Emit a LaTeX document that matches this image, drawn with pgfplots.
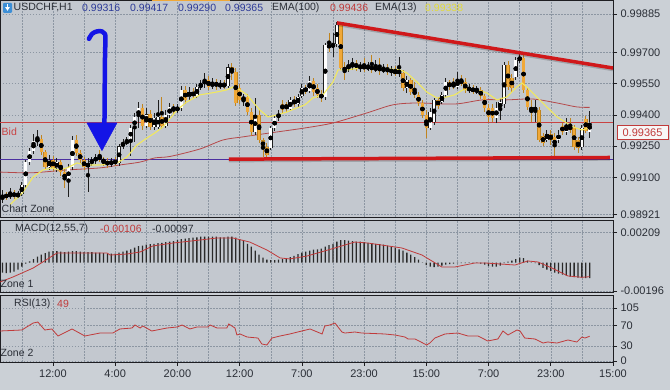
\documentclass[border=0pt]{standalone}
\usepackage{pgfplots}
\pgfplotsset{compat=1.18}
\usepackage{pgfplotstable}
\usepackage{fontspec}
\setmainfont{Liberation Sans}

\definecolor{pagebg}{HTML}{CBD0D6}
\definecolor{panelbg}{HTML}{C3C8CF}
\definecolor{gridc}{HTML}{8C96A2}
\definecolor{axisc}{HTML}{1E1E22}
\definecolor{bullfill}{HTML}{FFFFFF}
\definecolor{bulledge}{HTML}{1E1E1E}
\definecolor{bearfill}{HTML}{F0A838}
\definecolor{bearedge}{HTML}{C0841F}
\definecolor{emay}{HTML}{F2E95E}
\definecolor{emar}{HTML}{B5494A}
\definecolor{bidred}{HTML}{C94343}
\definecolor{purp}{HTML}{4B2FA0}
\definecolor{trendred}{HTML}{D0181A}
\definecolor{arrowblue}{HTML}{1414E6}
\definecolor{valblue}{HTML}{2C3A98}
\definecolor{txt}{HTML}{2A2E36}
\definecolor{valred}{HTML}{C03A3A}
\definecolor{valyel}{HTML}{E2DA3A}
\definecolor{histc}{HTML}{2A2A2A}
\definecolor{iconblue}{HTML}{3D8FD6}

\pgfplotstableread{
t o h l c
-13 0.98991 0.99039 0.98976 0.99015
-11 0.99005 0.99048 0.98996 0.99024
-9 0.99010 0.99034 0.99000 0.99020
-8 0.99020 0.99077 0.99010 0.99063
-7 0.99063 0.99183 0.99048 0.99173
-6 0.99173 0.99241 0.99159 0.99226
-5 0.99226 0.99308 0.99212 0.99275
-4 0.99275 0.99327 0.99250 0.99284
-1 0.99149 0.99207 0.99135 0.99183
1 0.99145 0.99193 0.99125 0.99173
4 0.99087 0.99164 0.99005 0.99149
5 0.99149 0.99298 0.99135 0.99279
9 0.99149 0.99193 0.99029 0.99169
10 0.99169 0.99197 0.99154 0.99183
11 0.99183 0.99212 0.99164 0.99193
15 0.99164 0.99193 0.99149 0.99178
17 0.99169 0.99260 0.99154 0.99250
18 0.99250 0.99284 0.99236 0.99265
19 0.99265 0.99294 0.99255 0.99279
20 0.99279 0.99351 0.99202 0.99337
21 0.99337 0.99409 0.99270 0.99390
22 0.99390 0.99462 0.99337 0.99433
24 0.99347 0.99433 0.99337 0.99404
26 0.99342 0.99409 0.99327 0.99385
27 0.99342 0.99472 0.99332 0.99390
29 0.99347 0.99423 0.99337 0.99399
30 0.99399 0.99457 0.99385 0.99438
32 0.99423 0.99452 0.99409 0.99433
33 0.99433 0.99539 0.99419 0.99520
35 0.99486 0.99534 0.99467 0.99510
37 0.99491 0.99548 0.99481 0.99534
38 0.99534 0.99568 0.99520 0.99548
39 0.99548 0.99601 0.99529 0.99568
41 0.99534 0.99577 0.99524 0.99558
43 0.99539 0.99568 0.99524 0.99548
45 0.99539 0.99645 0.99529 0.99630
49 0.99472 0.99500 0.99443 0.99486
52 0.99318 0.99481 0.99303 0.99399
56 0.99241 0.99347 0.99231 0.99337
57 0.99337 0.99399 0.99323 0.99385
58 0.99385 0.99423 0.99371 0.99409
61 0.99428 0.99486 0.99419 0.99472
63 0.99452 0.99500 0.99438 0.99486
64 0.99491 0.99548 0.99481 0.99529
66 0.99515 0.99587 0.99505 0.99563
70 0.99486 0.99746 0.99472 0.99736
72 0.99726 0.99794 0.99678 0.99741
73 0.99741 0.99847 0.99726 0.99832
76 0.99616 0.99664 0.99606 0.99645
77 0.99630 0.99673 0.99616 0.99649
79 0.99625 0.99654 0.99606 0.99640
81 0.99621 0.99654 0.99611 0.99635
83 0.99616 0.99664 0.99606 0.99630
85 0.99611 0.99645 0.99601 0.99625
87 0.99606 0.99635 0.99587 0.99616
89 0.99597 0.99678 0.99582 0.99616
91 0.99529 0.99587 0.99505 0.99568
97 0.99337 0.99433 0.99327 0.99414
98 0.99366 0.99481 0.99351 0.99472
100 0.99462 0.99510 0.99452 0.99496
101 0.99496 0.99577 0.99486 0.99558
104 0.99534 0.99606 0.99524 0.99568
107 0.99520 0.99548 0.99505 0.99529
109 0.99510 0.99539 0.99500 0.99524
114 0.99385 0.99462 0.99361 0.99433
115 0.99433 0.99481 0.99375 0.99462
116 0.99452 0.99654 0.99433 0.99640
119 0.99582 0.99678 0.99568 0.99664
120 0.99664 0.99693 0.99649 0.99678
124 0.99419 0.99472 0.99366 0.99438
127 0.99279 0.99327 0.99270 0.99308
130 0.99279 0.99327 0.99265 0.99308
132 0.99318 0.99385 0.99303 0.99351
136 0.99246 0.99351 0.99231 0.99337
138 0.99316 0.99417 0.99290 0.99365
}\bull

\pgfplotstableread{
t o h l c
-12 0.99015 0.99029 0.98991 0.99005
-10 0.99024 0.99039 0.98996 0.99010
-3 0.99284 0.99303 0.99207 0.99222
-2 0.99222 0.99231 0.99135 0.99149
0 0.99183 0.99202 0.99130 0.99145
2 0.99173 0.99183 0.99106 0.99125
3 0.99125 0.99145 0.99048 0.99087
6 0.99279 0.99303 0.99202 0.99217
7 0.99217 0.99231 0.99169 0.99183
8 0.99183 0.99197 0.99135 0.99149
12 0.99202 0.99231 0.99173 0.99188
13 0.99188 0.99197 0.99154 0.99173
14 0.99173 0.99193 0.99145 0.99164
16 0.99178 0.99197 0.99154 0.99169
23 0.99433 0.99452 0.99327 0.99347
25 0.99404 0.99423 0.99327 0.99342
28 0.99390 0.99486 0.99332 0.99347
31 0.99438 0.99452 0.99399 0.99423
34 0.99520 0.99539 0.99452 0.99472
36 0.99510 0.99529 0.99476 0.99491
40 0.99568 0.99587 0.99520 0.99534
42 0.99558 0.99573 0.99520 0.99539
44 0.99548 0.99568 0.99524 0.99539
46 0.99630 0.99649 0.99568 0.99606
47 0.99606 0.99625 0.99443 0.99457
48 0.99529 0.99548 0.99452 0.99472
50 0.99486 0.99500 0.99399 0.99414
51 0.99414 0.99433 0.99298 0.99318
53 0.99399 0.99423 0.99265 0.99279
54 0.99279 0.99289 0.99197 0.99246
55 0.99246 0.99265 0.99193 0.99207
59 0.99452 0.99472 0.99409 0.99423
60 0.99452 0.99462 0.99414 0.99428
62 0.99472 0.99491 0.99438 0.99452
65 0.99529 0.99544 0.99500 0.99515
67 0.99563 0.99577 0.99491 0.99510
68 0.99529 0.99548 0.99481 0.99496
69 0.99496 0.99520 0.99462 0.99486
71 0.99736 0.99794 0.99702 0.99726
74 0.99832 0.99842 0.99616 0.99625
75 0.99625 0.99654 0.99568 0.99616
78 0.99649 0.99664 0.99611 0.99625
80 0.99640 0.99673 0.99606 0.99621
82 0.99635 0.99688 0.99601 0.99616
84 0.99630 0.99673 0.99592 0.99611
86 0.99625 0.99645 0.99592 0.99606
88 0.99616 0.99635 0.99587 0.99597
90 0.99601 0.99616 0.99515 0.99529
92 0.99568 0.99577 0.99496 0.99510
93 0.99520 0.99558 0.99481 0.99496
94 0.99496 0.99510 0.99443 0.99457
95 0.99457 0.99472 0.99385 0.99399
96 0.99399 0.99423 0.99289 0.99337
99 0.99472 0.99486 0.99428 0.99443
102 0.99558 0.99568 0.99520 0.99534
103 0.99548 0.99577 0.99524 0.99539
105 0.99568 0.99592 0.99539 0.99553
106 0.99558 0.99577 0.99505 0.99520
108 0.99529 0.99544 0.99500 0.99510
110 0.99520 0.99534 0.99476 0.99491
111 0.99491 0.99500 0.99414 0.99433
112 0.99433 0.99452 0.99366 0.99390
113 0.99433 0.99452 0.99366 0.99385
117 0.99640 0.99659 0.99520 0.99534
118 0.99577 0.99597 0.99510 0.99529
121 0.99673 0.99688 0.99505 0.99520
122 0.99520 0.99529 0.99423 0.99438
123 0.99438 0.99472 0.99366 0.99419
125 0.99423 0.99438 0.99270 0.99279
126 0.99298 0.99313 0.99250 0.99265
128 0.99308 0.99327 0.99255 0.99279
129 0.99294 0.99313 0.99197 0.99246
131 0.99347 0.99361 0.99303 0.99318
133 0.99351 0.99385 0.99313 0.99327
134 0.99337 0.99351 0.99231 0.99246
135 0.99279 0.99294 0.99217 0.99241
137 0.99380 0.99395 0.99313 0.99323
}\bear

\pgfplotstableread{
t m
-13 -0.00069
-12 -0.00073
-11 -0.00069
-10 -0.00062
-9 -0.00048
-8 -0.00028
-7 -0.00007
-6 0.00010
-5 0.00024
-4 0.00042
-3 0.00055
-2 0.00066
-1 0.00076
0 0.00080
1 0.00080
2 0.00076
3 0.00073
4 0.00076
5 0.00080
6 0.00080
7 0.00076
8 0.00073
9 0.00073
10 0.00073
11 0.00069
12 0.00069
13 0.00066
14 0.00062
15 0.00062
16 0.00062
17 0.00069
18 0.00076
19 0.00083
20 0.00093
21 0.00104
22 0.00114
23 0.00118
24 0.00125
25 0.00128
26 0.00131
27 0.00135
28 0.00138
29 0.00142
30 0.00145
31 0.00149
32 0.00156
33 0.00163
34 0.00166
35 0.00170
36 0.00173
37 0.00176
38 0.00180
39 0.00180
40 0.00180
41 0.00180
42 0.00180
43 0.00176
44 0.00176
45 0.00180
46 0.00180
47 0.00173
48 0.00163
49 0.00149
50 0.00131
51 0.00111
52 0.00083
53 0.00055
54 0.00035
55 0.00021
56 0.00017
57 0.00017
58 0.00021
59 0.00024
60 0.00031
61 0.00038
62 0.00048
63 0.00059
64 0.00069
65 0.00076
66 0.00083
67 0.00090
68 0.00093
69 0.00097
70 0.00111
71 0.00121
72 0.00131
73 0.00145
74 0.00156
75 0.00156
76 0.00152
77 0.00149
78 0.00145
79 0.00145
80 0.00142
81 0.00138
82 0.00135
83 0.00131
84 0.00128
85 0.00125
86 0.00118
87 0.00111
88 0.00104
89 0.00093
90 0.00083
91 0.00069
92 0.00055
93 0.00038
94 0.00021
95 0.00003
96 -0.00017
97 -0.00028
98 -0.00031
99 -0.00028
100 -0.00021
101 -0.00014
102 -0.00010
103 -0.00007
104 -0.00003
105 -0.00003
106 -0.00003
107 0.00003
108 0.00003
109 0.00003
110 -0.00007
111 -0.00014
112 -0.00024
113 -0.00028
114 -0.00028
115 -0.00021
116 -0.00003
117 0.00007
118 0.00014
119 0.00024
120 0.00035
121 0.00031
122 0.00014
123 0.00003
124 -0.00003
125 -0.00017
126 -0.00035
127 -0.00048
128 -0.00059
129 -0.00069
130 -0.00076
131 -0.00083
132 -0.00090
133 -0.00097
134 -0.00100
135 -0.00104
136 -0.00104
137 -0.00107
138 -0.00106
}\macd

\pgfplotsset{
  mtpanel/.style={
    scale only axis, anchor=south west,
    xmin=-13.62, xmax=144,
    axis background/.style={fill=panelbg},
    axis line style={draw=axisc, line width=0.8pt},
    xtick={0,16,...,144}, minor xtick={-8,8,...,136},
    xmajorgrids, xminorgrids, ymajorgrids,
    major grid style={gridc, line width=0.5pt, dash pattern=on 1.5pt off 1.5pt},
    minor grid style={gridc, line width=0.5pt, dash pattern=on 1.5pt off 1.5pt},
    yticklabel pos=right, ytick pos=right, xtick pos=bottom,
    scaled y ticks=false, scaled x ticks=false,
    tick align=outside, major tick length=4pt, minor tick length=0pt,
    tick style={axisc, line width=0.6pt},
    tick label style={font=\fontsize{11}{13}\selectfont, text=txt},
  },
  candle/.style={only marks, mark=none, forget plot,
    error bars/.cd, y dir=both, y explicit, error mark=none,
    error mark options={draw=none, fill=none}},
}

\begin{document}
\begin{tikzpicture}[font=\fontsize{10.5}{12.5}\selectfont]
\fill[pagebg] (0pt,0pt) rectangle (670pt,390pt);

% ---------------- main price panel ----------------
\begin{axis}[mtpanel, at={(0pt,173pt)}, width=613pt, height=217pt,
  ymin=0.98909, ymax=0.99952,
  ytick={0.98921,0.99100,0.99250,0.99400,0.99550,0.99700,0.99885},
  yticklabels={0.98921,0.99100,0.99250,0.99400,0.99550,0.99700,0.99885},
  xticklabels={}, xtick style={draw=none}]
\addplot[purp, line width=0.8pt] coordinates {(-13.62,0.99188) (144,0.99188)};
\addplot[bidred, line width=0.8pt] coordinates {(-13.62,0.99363) (144,0.99363)};
\addplot[emar, line width=0.8pt, smooth] coordinates {
(-13.62,0.99125) (-6.7,0.99121) (-2.6,0.99125) (3.6,0.99135) (12.1,0.99145) (17.2,0.99159) (22.4,0.99173) (26.2,0.99193) (30.1,0.99200) (37.8,0.99236) (43.7,0.99279) (48.8,0.99294) (55.8,0.99313) (64.8,0.99337) (72.0,0.99361) (80.7,0.99409) (87.4,0.99448) (93.6,0.99457) (103.3,0.99452) (110.5,0.99472) (116.7,0.99472) (123.4,0.99476) (129.6,0.99457) (134.7,0.99438) (138.0,0.99436)};
% wicks
\addplot[candle, error bar style={line width=0.9pt, line cap=butt, bearedge}] table[x=t, y expr={(\thisrow{h}+\thisrow{l})/2}, y error expr={(\thisrow{h}-\thisrow{l})/2}] {\bear};
\addplot[candle, error bar style={line width=0.9pt, line cap=butt, bulledge}] table[x=t, y expr={(\thisrow{h}+\thisrow{l})/2}, y error expr={(\thisrow{h}-\thisrow{l})/2}] {\bull};
% bodies
\addplot[candle, error bar style={line width=3.5pt, line cap=butt, bearedge}] table[x=t, y expr={(\thisrow{o}+\thisrow{c})/2}, y error expr={(\thisrow{o}-\thisrow{c})/2}] {\bear};
\addplot[candle, error bar style={line width=2.7pt, line cap=butt, bearfill}] table[x=t, y expr={(\thisrow{o}+\thisrow{c})/2}, y error expr={(\thisrow{o}-\thisrow{c})/2-0.00001}] {\bear};
\addplot[candle, error bar style={line width=3.5pt, line cap=butt, bulledge}] table[x=t, y expr={(\thisrow{o}+\thisrow{c})/2}, y error expr={(\thisrow{c}-\thisrow{o})/2}] {\bull};
\addplot[candle, error bar style={line width=2.7pt, line cap=butt, bullfill}] table[x=t, y expr={(\thisrow{o}+\thisrow{c})/2}, y error expr={(\thisrow{c}-\thisrow{o})/2-0.00001}] {\bull};
% EMA 13
\addplot[emay, line width=1.1pt] coordinates {
(-11.05,0.98967) (-7.7,0.99029) (-5.1,0.99101) (-2.6,0.99135) (0,0.99145) (1.3,0.99135) (3.6,0.99145) (6.2,0.99169) (8.2,0.99159) (12.1,0.99159) (16.5,0.99169) (19.0,0.99197) (21.6,0.99255) (24.2,0.99289) (26.2,0.99313) (28.3,0.99342) (31.9,0.99423) (34.4,0.99462) (37.8,0.99496) (42.2,0.99510) (44.7,0.99520) (46.3,0.99534) (48.1,0.99520) (49.9,0.99496) (51.4,0.99462) (53.2,0.99423) (55.3,0.99390) (57.6,0.99399) (60.2,0.99414) (62.7,0.99433) (64.8,0.99448) (66.8,0.99481) (69.4,0.99496) (72.0,0.99558) (73.3,0.99616) (75.6,0.99616) (80.7,0.99630) (84.8,0.99625) (89.2,0.99616) (91.0,0.99601) (93.6,0.99558) (96.1,0.99510) (98.7,0.99481) (101.3,0.99486) (103.3,0.99496) (105.4,0.99520) (109.0,0.99520) (111.6,0.99505) (114.1,0.99472) (116.7,0.99486) (119.3,0.99534) (120.6,0.99553) (122.1,0.99529) (124.4,0.99486) (127.0,0.99438) (129.6,0.99390) (132.1,0.99361) (133.7,0.99342) (136.0,0.99327) (138.0,0.99338)};
% trend lines
\addplot[black, opacity=0.18, line width=3.5pt] coordinates {(45.2,0.99180) (143.2,0.99188)};
\addplot[black, opacity=0.18, line width=3.5pt] coordinates {(73.0,0.99835) (144,0.99618)};
\addplot[trendred, line width=3.5pt] coordinates {(45.2,0.99187) (143.2,0.99195)};
\addplot[trendred, line width=3.5pt] coordinates {(73.0,0.99842) (144,0.99625)};
% blue arrow
\addplot[arrowblue, line width=4.5pt, smooth, tension=0.6, line cap=round, line join=round] coordinates {
(9.25,0.99765) (10.03,0.99789) (11.31,0.99801) (12.60,0.99801) (13.37,0.99789) (13.50,0.99760) (13.37,0.99664) (13.24,0.99356)};
\addplot[arrowblue, fill=arrowblue, line width=0.5pt] coordinates {(8.74,0.99361) (16.45,0.99361) (12.6,0.99228)} -- cycle;
\end{axis}

% ---------------- MACD panel ----------------
\begin{axis}[mtpanel, at={(0pt,98pt)}, width=613pt, height=72pt,
  ymin=-0.002028, ymax=0.002956,
  ytick={-0.00196,0.00209}, yticklabels={-0.00196,0.00209},
  xticklabels={}, xtick style={draw=none}]
\addplot[ybar, bar shift=0pt, bar width=1.3pt, fill=histc, draw=none] table[x=t, y=m] {\macd};
\addplot[valred, line width=0.8pt] coordinates {
(-13.62,-0.00134) (-10.3,-0.00099) (-5.1,-0.00037) (-2.6,0.00005) (1.0,0.00067) (7.7,0.00067) (13.9,0.00067) (14.7,0.00053) (19.0,0.00060) (22.4,0.00074) (25.7,0.00116) (30.8,0.00136) (37.8,0.00157) (42.2,0.00171) (46.3,0.00171) (50.6,0.00143) (55.0,0.00088) (58.4,0.00033) (60.9,0.00026) (65.3,0.00046) (72.5,0.00102) (77.6,0.00143) (81.0,0.00136) (89.7,0.00102) (94.9,0.00053) (100.0,-0.00030) (103.3,-0.00030) (108.5,-0.00002) (111.1,-0.00002) (118.8,-0.00016) (122.1,0.00012) (124.7,0.00005) (128.3,-0.00037) (132.4,-0.00092) (136.0,-0.00101) (138.0,-0.00097)};
\end{axis}

% ---------------- RSI panel ----------------
\begin{axis}[mtpanel, at={(0pt,28pt)}, width=613pt, height=67pt,
  ymin=-1.98, ymax=130.7,
  ytick={0,30,70,105}, yticklabels={0,30,70,105},
  xticklabels={12:00,4:00,20:00,12:00,7:00,23:00,15:00,7:00,23:00,15:00}]
\addplot[valred, line width=0.8pt] coordinates {
(-13.62,59.4) (-8.0,61.4) (-5.1,75.2) (-3.9,77.2) (-2.1,61.4) (-0.3,63.4) (1.3,49.5) (4.9,63.4) (8.2,49.5) (12.1,55.4) (15.4,55.4) (17.2,63.4) (20.3,65.3) (21.1,71.3) (22.4,65.3) (23.1,69.3) (25.4,59.4) (29.3,65.3) (31.9,67.3) (33.2,71.3) (35.2,63.4) (37.0,67.3) (39.8,67.3) (40.4,71.3) (42.2,65.3) (44.7,65.3) (45.2,73.3) (46.8,65.3) (47.3,51.5) (48.1,53.5) (49.9,47.5) (52.7,45.5) (53.7,33.7) (55.0,31.7) (56.3,45.5) (58.4,49.5) (60.9,53.5) (64.0,59.4) (66.1,63.4) (69.2,53.5) (69.9,69.3) (71.2,71.3) (72.5,75.2) (74.3,57.4) (75.1,55.4) (77.6,57.4) (79.4,55.4) (85.3,53.5) (87.9,51.5) (90.5,47.5) (91.3,43.6) (93.1,43.6) (96.1,31.7) (96.9,35.6) (98.2,45.5) (100.8,53.5) (104.1,55.4) (106.7,49.5) (109.3,49.5) (111.8,39.6) (114.4,43.6) (115.7,59.4) (117.0,51.5) (119.3,61.4) (120.1,59.4) (121.3,45.5) (123.9,43.6) (126.0,35.6) (127.2,37.6) (129.6,35.6) (132.4,41.6) (134.7,37.6) (136.0,47.5) (136.8,45.5) (138.0,49)};
\end{axis}

% ---------------- texts ----------------
\fill[bearfill] (152pt,388.6pt) rectangle (230pt,390pt);
\fill[iconblue, rounded corners=1pt] (3pt,377pt) rectangle (12pt,387pt);
\fill[white] (5.2pt,382.8pt) -- (9.8pt,382.8pt) -- (7.5pt,379.2pt) -- cycle;
\fill[white] (6.8pt,382.8pt) rectangle (8.2pt,385.8pt);
\begin{scope}[every node/.style={anchor=west, inner sep=0pt}]
\node[text=txt] at (13.5pt,382pt) {USDCHF,H1};
\node[text=valblue] at (82pt,382pt) {0.99316};
\node[text=valblue] at (130pt,382pt) {0.99417};
\node[text=valblue] at (178pt,382pt) {0.99290};
\node[text=valblue] at (225pt,382pt) {0.99365};
\node[text=txt] at (272pt,382pt) {EMA(100)};
\node[text=valred] at (330pt,382pt) {0.99436};
\node[text=txt] at (375pt,382pt) {EMA(13)};
\node[text=valyel] at (425pt,382pt) {0.99338};
\node[text=bidred] at (1.5pt,258.5pt) {Bid};
\node[text=txt] at (1.5pt,181.5pt) {Chart Zone};
\node[text=txt] at (15pt,161pt) {MACD(12,55,7)};
\node[text=valred] at (100pt,161pt) {-0.00106};
\node[text=txt] at (152pt,161pt) {-0.00097};
\node[text=txt] at (0.5pt,106pt) {Zone 1};
\node[text=txt] at (14pt,86pt) {RSI(13)};
\node[text=valred] at (57pt,86pt) {49};
\node[text=txt] at (0.5pt,37pt) {Zone 2};
\end{scope}
\draw[fill=white!94!gray, draw=valred, line width=0.8pt] (617pt,251pt) rectangle (668pt,264.5pt);
\node[text=valred, font=\fontsize{11}{13}\selectfont, inner sep=0pt] at (642.5pt,257.7pt) {0.99365};

\pgfresetboundingbox
\useasboundingbox (0pt,0pt) rectangle (670pt,390pt);
\end{tikzpicture}
\end{document}
